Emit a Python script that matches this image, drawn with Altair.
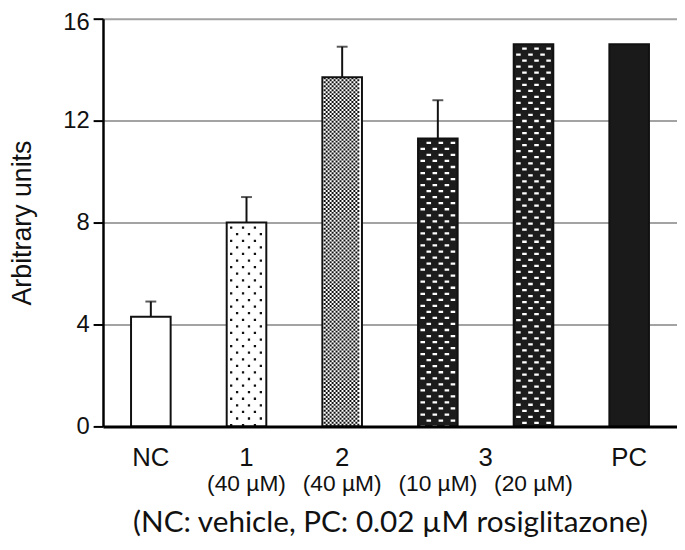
import altair as alt
import pandas as pd

groups = ["NC", "1", "2", "3 (10)", "3 (20)", "PC"]
values = [4.3, 8.0, 13.7, 11.3, 15.0, 15.0]
err_tops = [4.9, 9.0, 14.9, 12.8, None, None]
main_labels = ["NC", "1", "2", "3", "", "PC"]
sub_labels = ["", "(40 µM)", "(40 µM)", "(10 µM)", "(20 µM)", ""]
patterns = ["open", "dots", "checker", "brick", "brick", "solid"]
y_ticks = [0, 4, 8, 12, 16]
note = "(NC: vehicle, PC: 0.02 µM rosiglitazone)"

df = pd.DataFrame({
    "group": groups, "value": values, "err": err_tops,
    "main": main_labels, "sub": sub_labels, "pattern": patterns,
})

W, H = 580, 412
STEP = W / len(groups)
ARIAL = "Liberation Sans"

x_enc = alt.X(
    "group:N", sort=groups,
    scale=alt.Scale(paddingInner=0.586, paddingOuter=0.293),
    axis=alt.Axis(
        title=note, labels=False, ticks=False, domainColor="black",
        domainWidth=3, zindex=1, titleFont="Lato", titleFontSize=30,
        titleFontWeight="normal", titleColor="#111", titlePadding=97,
        titleBaseline="middle",
    ),
)
y_scale = alt.Scale(domain=[0, 16], nice=False)
y_enc = alt.Y(
    "value:Q", scale=y_scale,
    axis=alt.Axis(
        values=y_ticks, title="Arbitrary units", grid=True,
        gridColor="#a3a3a3", gridWidth=2, domainColor="black",
        domainWidth=2.5, tickColor="black", tickWidth=2, tickSize=10,
        labelFont=ARIAL, labelFontSize=24, labelColor="#111",
        labelPadding=4, labelOffset=alt.expr("datum.value == 16 ? 4 : 0"),
        titleFont=ARIAL, titleFontSize=27,
        titleFontWeight="normal", titleColor="#111", titleX=-81,
        titleBaseline="middle",
    ),
)

base = alt.Chart(df)

bars = base.mark_bar(stroke="#111", strokeWidth=2).encode(
    x=x_enc, y=y_enc, y2=alt.datum(0),
    fill=alt.Color(
        "pattern:N",
        scale=alt.Scale(domain=["open", "dots", "checker", "brick", "solid"],
                        range=["white", "white", "white", "#1c1c1c", "#1a1a1a"]),
        legend=None,
    ),
)

layers = [bars]


def col(pattern, off, width, color, dash, dash_off):
    return base.transform_filter(f"datum.pattern == '{pattern}'").mark_rule(
        xOffset=off, strokeWidth=width, color=color, strokeDash=dash,
        strokeDashOffset=dash_off, strokeCap="butt",
    ).encode(x=x_enc, y=y_enc, y2=alt.datum(0))


# dotted pattern
dot_offs = [-15.5, -9.5, -3.5, 2.5, 8.5, 14.5]
for i, o in enumerate(dot_offs):
    layers.append(col("dots", o, 2.3, "#111", [2.3, 11.0], 9.3 if i % 2 == 0 else 2.65))

# checker pattern
for k in range(18):
    layers.append(col("checker", -17.67 + 2 * k, 2, "#111", [2, 2], 0 if k % 2 == 0 else 2))

# brick pattern
brick_offs = [-15.25, -9.15, -3.05, 3.05, 9.15, 15.25]
for i, o in enumerate(brick_offs):
    layers.append(col("brick", o, 4.6, "white", [2.3, 9.9], 2.8 if i % 2 == 0 else 8.9))

# error bars
err_base = base.transform_filter("isValid(datum.err)")
stems = err_base.mark_rule(color="#111", strokeWidth=2).encode(
    x=x_enc, y=alt.Y("value:Q", scale=y_scale), y2="err:Q")
caps = err_base.mark_tick(color="#111", thickness=2, size=11).encode(
    x=x_enc, y=alt.Y("err:Q", scale=y_scale))
layers += [stems, caps]

# category labels
main_txt = base.transform_filter("datum.main != '' && datum.main != '3'").mark_text(
    font=ARIAL, fontSize=26, color="#111", baseline="middle",
).encode(x=x_enc, y=alt.value(444), text="main:N")
main3 = base.transform_filter("datum.main == '3'").mark_text(
    font=ARIAL, fontSize=26, color="#111", baseline="middle", dx=STEP / 2,
).encode(x=x_enc, y=alt.value(444), text="main:N")
sub_txt = base.transform_filter("datum.sub != ''").mark_text(
    font=ARIAL, fontSize=23, color="#111", baseline="middle",
).encode(x=x_enc, y=alt.value(470), text="sub:N")
layers += [main_txt, main3, sub_txt]

chart = alt.layer(*layers).properties(
    width=W, height=H,
    padding={"left": 96, "right": 0, "top": 8, "bottom": 114},
    autosize=alt.AutoSizeParams(type="none"),
).configure_view(stroke=None).configure(background="white")

chart.save("out.html", embed_options={"renderer": "svg", "actions": False})
